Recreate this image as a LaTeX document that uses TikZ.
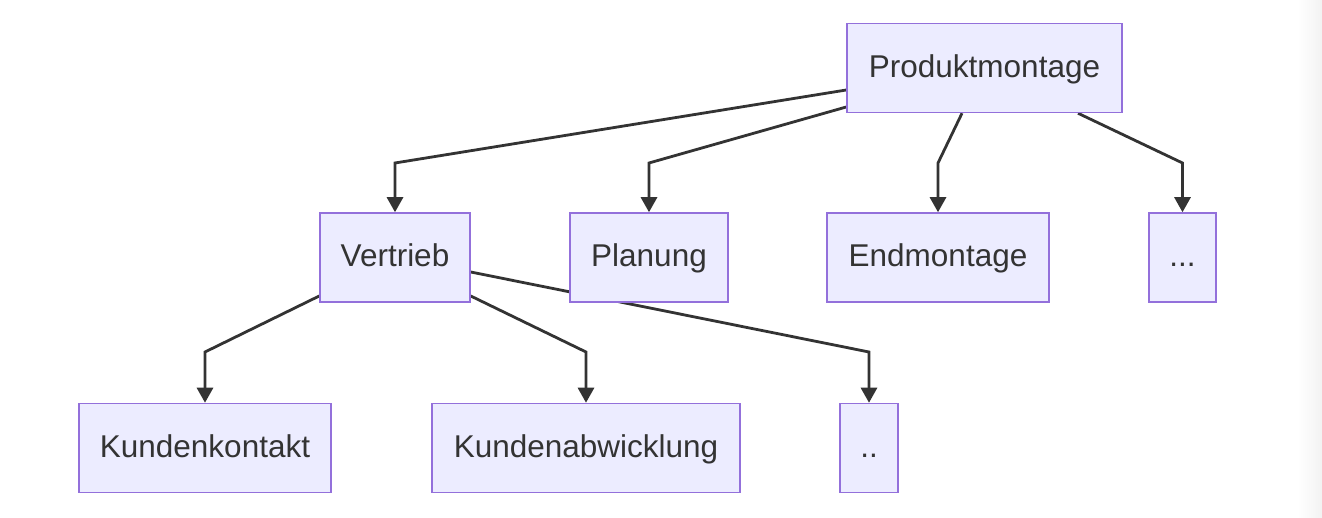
\documentclass[tikz,border=0pt]{standalone}
\usepackage{fontspec}
\setmainfont{Liberation Sans}
\usetikzlibrary{arrows.meta,backgrounds}
\definecolor{boxfill}{HTML}{ECECFF}
\definecolor{boxline}{HTML}{9370DB}
\definecolor{ink}{HTML}{333333}
\tikzset{task/.style = {draw=boxline,fill=boxfill,line width=1.5pt,minimum height=89pt,inner sep=0pt,text height=25pt,text depth=6.6pt,text=ink,font=\fontsize{31.5}{38}\selectfont}}
\tikzset{arrow/.style = {-{Triangle[width=16pt,length=15pt]},line width=2.8pt,draw=ink}}

\begin{document}
\begin{tikzpicture}[x=1pt,y=1pt]
		\useasboundingbox (0,0) rectangle (1322,518);
		\shade[left color=white,right color=black!5] (1298,0) rectangle (1322,518);
		\node[task, minimum width=275pt] (prod) at (984.5,450) {Produktmontage};
		\node[task, minimum width=150pt] (vertrieb) at (395,260.5) {Vertrieb};
		\node[task, minimum width=158pt] (planung) at (649,260.5) {Planung};
		\node[task, minimum width=222pt] (endmontage) at (938,260.5) {Endmontage};
		\node[task, minimum width=67pt] (rest) at (1182.5,260.5) {...};
		\node[task, minimum width=252pt] (kontakt) at (205,70) {Kundenkontakt};
		\node[task, minimum width=308pt] (abwicklung) at (586,70) {Kundenabwicklung};
		\node[task, minimum width=58pt] (weitere) at (869,70) {..};
		\coordinate (upper) at (0,355);
		\coordinate (lower) at (0,166);
		\begin{scope}[on background layer]
		\draw[arrow] ([yshift=-22pt]prod.west) -- (vertrieb.north |- upper) -- (vertrieb.north);
		\draw[arrow] ([yshift=-39pt]prod.west) -- (planung.north |- upper) -- (planung.north);
		\draw[arrow] ([xshift=-22.5pt]prod.south) -- (endmontage.north |- upper) -- (endmontage.north);
		\draw[arrow] ([xshift=93.5pt]prod.south) -- (rest.north |- upper) -- (rest.north);
		\draw[arrow] ([yshift=-38.5pt]vertrieb.west) -- (kontakt.north |- lower) -- (kontakt.north);
		\draw[arrow] ([yshift=-38.5pt]vertrieb.east) -- (abwicklung.north |- lower) -- (abwicklung.north);
		\draw[arrow] ([yshift=-14.5pt]vertrieb.east) -- (weitere.north |- lower) -- (weitere.north);
		\end{scope}
	\end{tikzpicture}
\end{document}
